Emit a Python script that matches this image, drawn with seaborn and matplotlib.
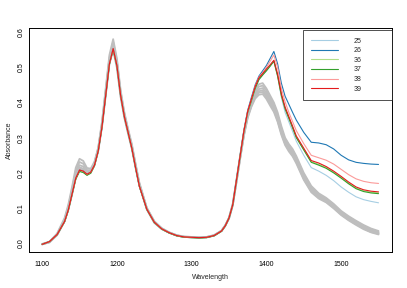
import pandas as pd
import matplotlib
matplotlib.use("Agg")
import matplotlib.pyplot as plt
import seaborn as sns

# wavelengths (nm) shared by every spectrum
wl = [1100, 1110, 1120, 1130, 1135, 1140, 1145, 1150, 1155, 1160, 1165, 1170,
      1175, 1180, 1185, 1190, 1195, 1200, 1205, 1210, 1215, 1220, 1225, 1230,
      1240, 1250, 1260, 1270, 1280, 1290, 1300, 1310, 1320, 1330, 1340, 1345,
      1350, 1355, 1360, 1365, 1370, 1375,
      1380, 1385, 1390, 1395, 1400, 1405, 1410, 1415, 1420, 1425, 1430, 1435,
      1440, 1450, 1460, 1470, 1480, 1490, 1500, 1510, 1520, 1530, 1540, 1550]

# background spectra (grey)
g1 = [-0.002, 0.005, 0.028, 0.072, 0.11, 0.16, 0.215, 0.24, 0.234, 0.214, 0.212, 0.232,
      0.272, 0.345, 0.44, 0.535, 0.58, 0.525, 0.435, 0.372, 0.325, 0.282, 0.226, 0.173,
      0.101, 0.063, 0.043, 0.031, 0.023, 0.019, 0.018, 0.017, 0.018, 0.023, 0.036, 0.051,
      0.073, 0.112, 0.18, 0.25, 0.318, 0.372,
      0.405, 0.437, 0.452, 0.455, 0.44, 0.42, 0.4, 0.372, 0.333, 0.3, 0.282, 0.268,
      0.248, 0.2, 0.163, 0.142, 0.129, 0.112, 0.092, 0.077, 0.064, 0.052, 0.042, 0.035]
g2 = [-0.002, 0.004, 0.026, 0.068, 0.105, 0.153, 0.206, 0.231, 0.226, 0.208, 0.208, 0.229,
      0.27, 0.34, 0.434, 0.527, 0.572, 0.518, 0.43, 0.368, 0.321, 0.278, 0.223, 0.17,
      0.1, 0.062, 0.042, 0.031, 0.023, 0.019, 0.018, 0.017, 0.018, 0.023, 0.036, 0.051,
      0.073, 0.111, 0.179, 0.249, 0.315, 0.368,
      0.401, 0.431, 0.445, 0.448, 0.434, 0.414, 0.394, 0.365, 0.326, 0.295, 0.277, 0.263,
      0.243, 0.195, 0.158, 0.138, 0.125, 0.108, 0.089, 0.074, 0.061, 0.049, 0.039, 0.032]
g3 = [-0.003, 0.004, 0.025, 0.065, 0.1, 0.147, 0.198, 0.222, 0.218, 0.203, 0.205, 0.226,
      0.267, 0.336, 0.428, 0.52, 0.565, 0.512, 0.425, 0.363, 0.318, 0.274, 0.22, 0.168,
      0.099, 0.061, 0.042, 0.03, 0.022, 0.018, 0.017, 0.016, 0.017, 0.022, 0.035, 0.05,
      0.072, 0.11, 0.178, 0.247, 0.313, 0.365,
      0.397, 0.425, 0.438, 0.441, 0.427, 0.407, 0.388, 0.358, 0.32, 0.29, 0.272, 0.258,
      0.238, 0.19, 0.154, 0.135, 0.122, 0.105, 0.086, 0.071, 0.058, 0.046, 0.036, 0.03]
g4 = [-0.003, 0.003, 0.024, 0.064, 0.098, 0.143, 0.193, 0.216, 0.212, 0.2, 0.203, 0.224,
      0.265, 0.333, 0.424, 0.515, 0.558, 0.506, 0.421, 0.36, 0.315, 0.272, 0.218, 0.166,
      0.098, 0.06, 0.041, 0.03, 0.022, 0.018, 0.017, 0.016, 0.017, 0.022, 0.035, 0.05,
      0.071, 0.109, 0.176, 0.245, 0.31, 0.362,
      0.394, 0.42, 0.432, 0.435, 0.421, 0.401, 0.383, 0.353, 0.316, 0.286, 0.268, 0.254,
      0.234, 0.186, 0.151, 0.132, 0.12, 0.103, 0.084, 0.069, 0.056, 0.044, 0.034, 0.028]
g5 = [-0.003, 0.003, 0.024, 0.063, 0.096, 0.14, 0.19, 0.212, 0.209, 0.198, 0.202, 0.223,
      0.263, 0.331, 0.421, 0.512, 0.553, 0.502, 0.418, 0.358, 0.313, 0.27, 0.216, 0.165,
      0.097, 0.059, 0.041, 0.03, 0.022, 0.018, 0.017, 0.016, 0.017, 0.022, 0.035, 0.05,
      0.071, 0.108, 0.175, 0.243, 0.308, 0.359,
      0.391, 0.416, 0.428, 0.43, 0.416, 0.396, 0.378, 0.349, 0.312, 0.283, 0.265, 0.251,
      0.231, 0.183, 0.148, 0.129, 0.118, 0.101, 0.082, 0.067, 0.054, 0.042, 0.032, 0.027]
g6 = [-0.003, 0.003, 0.023, 0.062, 0.095, 0.138, 0.187, 0.207, 0.205, 0.196, 0.201, 0.222,
      0.262, 0.33, 0.419, 0.51, 0.548, 0.498, 0.415, 0.356, 0.311, 0.268, 0.214, 0.164,
      0.096, 0.058, 0.04, 0.03, 0.022, 0.018, 0.017, 0.016, 0.017, 0.022, 0.035, 0.05,
      0.07, 0.108, 0.173, 0.241, 0.306, 0.356,
      0.388, 0.411, 0.422, 0.424, 0.41, 0.391, 0.373, 0.345, 0.308, 0.279, 0.261, 0.247,
      0.227, 0.18, 0.145, 0.127, 0.116, 0.099, 0.08, 0.065, 0.052, 0.04, 0.031, 0.025]

# highlighted samples
s25 = [-0.003, 0.005, 0.025, 0.062, 0.095, 0.14, 0.185, 0.207, 0.204, 0.195, 0.201, 0.221,
       0.262, 0.33, 0.42, 0.51, 0.552, 0.505, 0.42, 0.36, 0.315, 0.27, 0.215, 0.163,
       0.097, 0.06, 0.041, 0.03, 0.022, 0.018, 0.017, 0.016, 0.017, 0.022, 0.035, 0.05,
       0.072, 0.11, 0.179, 0.249, 0.318, 0.372,
       0.405, 0.44, 0.465, 0.478, 0.49, 0.505, 0.518, 0.475, 0.415, 0.372, 0.345, 0.318,
       0.29, 0.25, 0.215, 0.205, 0.193, 0.178, 0.16, 0.145, 0.132, 0.124, 0.119, 0.115]
s26 = [-0.003, 0.005, 0.025, 0.062, 0.095, 0.14, 0.185, 0.208, 0.205, 0.196, 0.202, 0.222,
       0.262, 0.33, 0.42, 0.51, 0.553, 0.505, 0.42, 0.36, 0.315, 0.27, 0.215, 0.163,
       0.097, 0.06, 0.041, 0.03, 0.022, 0.018, 0.017, 0.016, 0.017, 0.022, 0.035, 0.05,
       0.072, 0.11, 0.181, 0.252, 0.322, 0.378,
       0.415, 0.45, 0.475, 0.49, 0.505, 0.525, 0.545, 0.51, 0.455, 0.418, 0.395, 0.372,
       0.35, 0.315, 0.287, 0.285, 0.28, 0.268, 0.25, 0.237, 0.23, 0.227, 0.225, 0.224]
s36 = [-0.003, 0.005, 0.025, 0.062, 0.094, 0.139, 0.183, 0.205, 0.202, 0.194, 0.2, 0.221,
       0.262, 0.33, 0.42, 0.51, 0.552, 0.505, 0.42, 0.36, 0.315, 0.27, 0.215, 0.163,
       0.097, 0.06, 0.041, 0.03, 0.022, 0.018, 0.017, 0.016, 0.017, 0.022, 0.035, 0.05,
       0.072, 0.11, 0.18, 0.25, 0.319, 0.373,
       0.407, 0.442, 0.467, 0.48, 0.492, 0.505, 0.518, 0.477, 0.422, 0.384, 0.357, 0.33,
       0.302, 0.267, 0.232, 0.224, 0.215, 0.202, 0.187, 0.171, 0.157, 0.149, 0.145, 0.143]
s37 = [-0.003, 0.005, 0.024, 0.061, 0.093, 0.138, 0.182, 0.204, 0.201, 0.193, 0.199, 0.22,
       0.261, 0.329, 0.419, 0.508, 0.55, 0.503, 0.419, 0.359, 0.314, 0.269, 0.214, 0.162,
       0.096, 0.059, 0.04, 0.029, 0.021, 0.017, 0.016, 0.015, 0.016, 0.021, 0.034, 0.049,
       0.071, 0.109, 0.179, 0.249, 0.318, 0.372,
       0.405, 0.44, 0.465, 0.478, 0.49, 0.503, 0.517, 0.475, 0.42, 0.382, 0.355, 0.328,
       0.3, 0.265, 0.23, 0.222, 0.213, 0.2, 0.185, 0.169, 0.155, 0.147, 0.143, 0.141]
s38 = [-0.003, 0.005, 0.025, 0.062, 0.095, 0.14, 0.185, 0.208, 0.205, 0.196, 0.202, 0.222,
       0.262, 0.33, 0.42, 0.51, 0.553, 0.505, 0.42, 0.36, 0.315, 0.27, 0.215, 0.163,
       0.097, 0.06, 0.041, 0.03, 0.022, 0.018, 0.017, 0.016, 0.017, 0.022, 0.035, 0.05,
       0.072, 0.11, 0.18, 0.25, 0.32, 0.375,
       0.41, 0.447, 0.472, 0.485, 0.5, 0.517, 0.535, 0.5, 0.44, 0.402, 0.372, 0.346,
       0.32, 0.283, 0.25, 0.243, 0.236, 0.225, 0.21, 0.195, 0.183, 0.176, 0.172, 0.17]
s39 = [-0.003, 0.005, 0.025, 0.062, 0.095, 0.14, 0.185, 0.208, 0.205, 0.196, 0.202, 0.222,
       0.262, 0.33, 0.42, 0.51, 0.553, 0.505, 0.42, 0.36, 0.315, 0.27, 0.215, 0.163,
       0.097, 0.06, 0.041, 0.03, 0.022, 0.018, 0.017, 0.016, 0.017, 0.022, 0.035, 0.05,
       0.072, 0.11, 0.18, 0.25, 0.32, 0.375,
       0.41, 0.445, 0.47, 0.482, 0.495, 0.507, 0.52, 0.48, 0.425, 0.387, 0.36, 0.333,
       0.305, 0.27, 0.235, 0.228, 0.218, 0.205, 0.19, 0.174, 0.16, 0.152, 0.148, 0.146]

grey_spectra = [g1, g2, g3, g4, g5, g6]
labels = ["25", "26", "36", "37", "38", "39"]
highlight = [s25, s26, s36, s37, s38, s39]
colors = sns.color_palette("Paired", 6)

sns.set_style("white")
plt.rcParams["font.family"] = ["Liberation Sans", "DejaVu Sans"]

fig = plt.figure(figsize=(4.07, 2.88), dpi=100)
ax = fig.add_axes([0.0705, 0.124, 0.8935, 0.778])

for g in grey_spectra:
    sns.lineplot(x=wl, y=g, color="#bebebe", lw=1.3, ax=ax)

for lab, s, c in zip(labels, highlight, colors):
    sns.lineplot(x=wl, y=s, color=c, lw=0.8, label=lab, ax=ax)

ax.set_xlim(1082, 1568.5)
ax.set_ylim(-0.0256, 0.611)
ax.set_xticks([1100, 1200, 1300, 1400, 1500])
ax.set_yticks([0.0, 0.1, 0.2, 0.3, 0.4, 0.5, 0.6])
ax.set_yticklabels(["0.0", "0.1", "0.2", "0.3", "0.4", "0.5", "0.6"])
ax.tick_params(axis="both", direction="out", length=3.5, width=0.6,
               labelsize=5, colors="black")
ax.tick_params(axis="x", pad=3)
ax.tick_params(axis="y", pad=1.5)
plt.setp(ax.get_yticklabels(), rotation=90, va="center", ha="center")
for sp in ax.spines.values():
    sp.set_visible(True)
    sp.set_color("black")
    sp.set_linewidth(0.7)

ax.set_xlabel("Wavelength", fontsize=5, labelpad=4)
ax.set_ylabel("Absorbance", fontsize=5)
ax.yaxis.set_label_coords(-0.043, 0.5)

leg = ax.legend(loc="upper right", bbox_to_anchor=(0.755, 0.6875, 0.243, 0.305),
                mode="expand", fontsize=5, frameon=True, fancybox=False,
                edgecolor="black", handlelength=3.9, handletextpad=2.2,
                labelspacing=0.38, borderpad=1.1, borderaxespad=0)
leg.get_frame().set_linewidth(0.6)

fig.savefig("out.png", dpi=100)
